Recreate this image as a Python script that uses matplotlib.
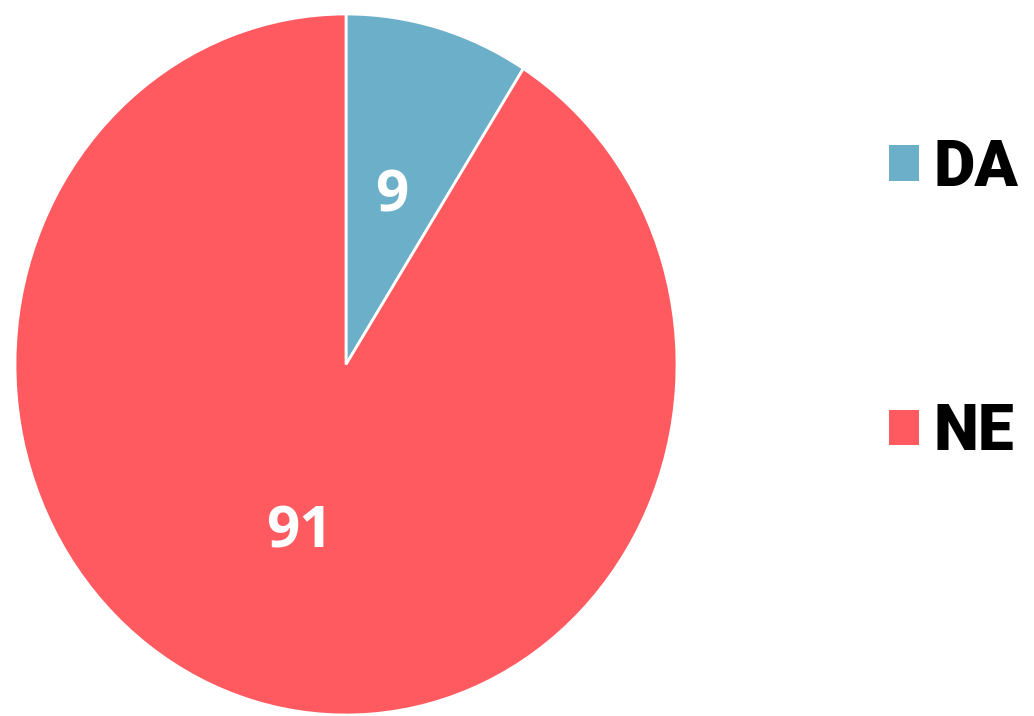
import matplotlib.pyplot as plt
from matplotlib.patches import Patch

labels = ['DA', 'NE']
values = [9, 91]
colors = ['#6BB0C8', '#FF5A5F']

fig = plt.figure(figsize=(10.34, 7.16), dpi=100)
ax = fig.add_axes([15 / 1034, 1 / 716, 662 / 1034, 701 / 716])

wedges, texts, autotexts = ax.pie(
    values, colors=colors, startangle=90, counterclock=False,
    autopct=lambda p: f'{p:.0f}', pctdistance=0.5,
    wedgeprops=dict(edgecolor='white', linewidth=2),
    textprops=dict(color='white', fontsize=42, fontweight='bold', family='Open Sans'))
ax.set_aspect('auto')
ax.set_xlim(-1, 1)
ax.set_ylim(-1, 1)

handles = [Patch(facecolor=c, edgecolor='none') for c in colors]
leg = fig.legend(handles, labels, loc='center left', bbox_to_anchor=(889 / 1034, 1 - 300 / 716),
                 frameon=False, borderpad=0, borderaxespad=0,
                 handlelength=0.47, handleheight=0.47, handletextpad=0.22,
                 labelspacing=3.17, prop=dict(family='Roboto', weight='black', size=46))

fig.savefig('out.png', dpi=100, facecolor='white')
